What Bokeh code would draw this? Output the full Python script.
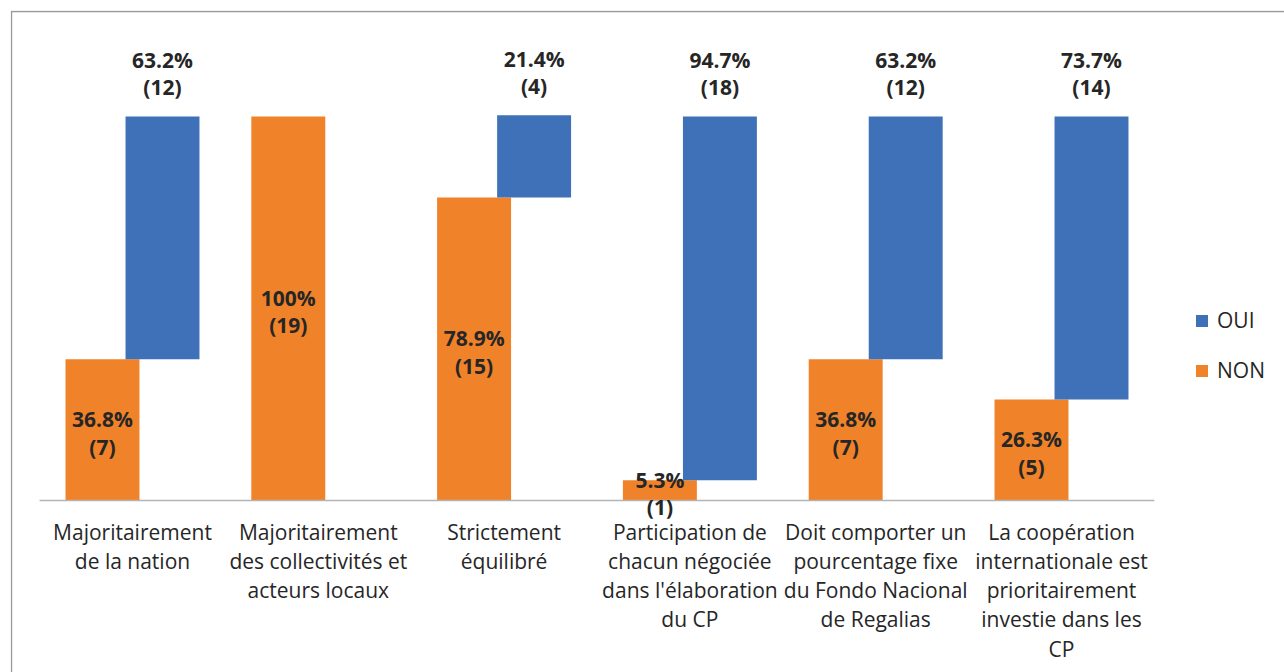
import numpy as np
from bokeh.plotting import figure
from bokeh.models import ColumnDataSource, Range1d, Legend, LegendItem, BoxAnnotation
from bokeh.core.properties import value
from bokeh.embed import file_html
from bokeh.resources import INLINE

# ---- data ----
categories = [
    "Majoritairement\nde la nation",
    "Majoritairement\ndes collectivités et\nacteurs locaux",
    "Strictement\néquilibré",
    "Participation de\nchacun négociée\ndans l'élaboration\ndu CP",
    "Doit comporter un\npourcentage fixe\ndu Fondo Nacional\nde Regalias",
    "La coopération\ninternationale est\nprioritairement\ninvestie dans les\nCP",
]
series = ["OUI", "NON"]
non_pct = [36.8, 100, 78.9, 5.3, 36.8, 26.3]
non_n = [7, 19, 15, 1, 7, 5]
oui_pct = [63.2, 0, 21.4, 94.7, 63.2, 73.7]
oui_n = [12, 0, 4, 18, 12, 14]

BLUE = "#3F71B8"
ORANGE = "#F0822A"
TXT = "#262626"
FONT = "Open Sans"

xs = np.arange(len(categories), dtype=float)
OFF = 0.1615
BW = 0.398

non_src = ColumnDataSource(dict(
    x=xs - OFF,
    top=non_pct,
    mid=[v / 2 for v in non_pct],
    label=[f"{v:g}%\n({n})" for v, n in zip(non_pct, non_n)],
))
keep = [i for i, v in enumerate(oui_pct) if v > 0]
oui_src = ColumnDataSource(dict(
    x=[xs[i] + OFF for i in keep],
    bottom=[non_pct[i] for i in keep],
    top=[non_pct[i] + oui_pct[i] for i in keep],
    label=[f"{oui_pct[i]:g}%\n({oui_n[i]})" for i in keep],
))

XR = Range1d(-0.6566, 6.2002)
YR = Range1d(-44.79, 127.6)
p = figure(width=1284, height=672, x_range=XR, y_range=YR,
           output_backend="svg", toolbar_location=None,
           x_axis_location=None, y_axis_location=None,
           min_border_left=10, min_border_top=10,
           min_border_right=0, min_border_bottom=0)
p.grid.grid_line_color = None
p.outline_line_color = None
p.background_fill_color = "white"
p.border_fill_color = "white"

# chart-area frame (only left and top edges are visible in the crop)
px_x = (XR.end - XR.start) / 1274.0
px_y = (YR.end - YR.start) / 662.0
p.add_layout(BoxAnnotation(left=XR.start + 1.0 * px_x, top=YR.end - 1.0 * px_y,
                           right=XR.end + 50, bottom=YR.start - 50,
                           fill_color=None, fill_alpha=0,
                           line_color="#999999", line_alpha=1.0, line_width=1.4))

r_non = p.vbar(x="x", top="top", bottom=0, width=BW, source=non_src,
               fill_color=ORANGE, line_color=None)
r_oui = p.vbar(x="x", top="top", bottom="bottom", width=BW, source=oui_src,
               fill_color=BLUE, line_color=None)

# baseline (category axis line)
p.segment(x0=xs[0] - 0.5, x1=xs[-1] + 0.5, y0=0, y1=0,
          line_color="#B4B4B4", line_width=1.5)

# value labels
p.text(x="x", y="mid", text="label", source=non_src, y_offset=3,
       text_align="center", text_baseline="middle",
       text_font=value(FONT), text_font_style="bold",
       text_font_size="21px", text_line_height=0.98, text_color=TXT)
p.text(x="x", y="top", text="label", source=oui_src,
       text_align="center", text_baseline="bottom", y_offset=-15,
       text_font=value(FONT), text_font_style="bold",
       text_font_size="21px", text_line_height=0.98, text_color=TXT)

# category labels
cat_src = ColumnDataSource(dict(x=xs, y=[0] * len(xs), text=categories))
p.text(x="x", y="y", text="text", source=cat_src, y_offset=17,
       text_align="center", text_baseline="top",
       text_font=value(FONT), text_font_size="21px",
       text_line_height=1.045, text_color=TXT)

legend = Legend(items=[LegendItem(label=series[0], renderers=[r_oui]),
                       LegendItem(label=series[1], renderers=[r_non])],
                location=(1184, 288), border_line_color=None,
                background_fill_alpha=0, padding=0, margin=0,
                glyph_width=15, glyph_height=15, label_standoff=8,
                label_text_font=FONT, label_text_font_size="21px",
                label_text_color=TXT, spacing=22)
p.add_layout(legend)

open("out.html", "w").write(file_html(p, INLINE))
